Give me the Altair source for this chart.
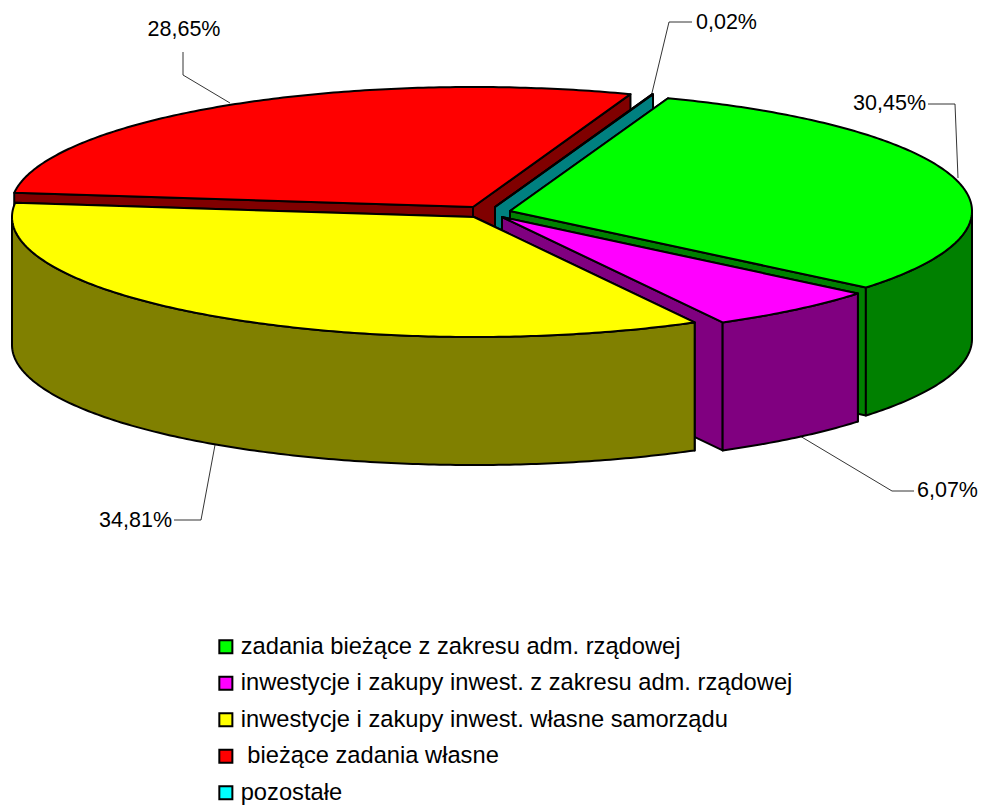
import math
import altair as alt

# ---- chart values ----
categories = ["zadania bieżące z zakresu adm. rządowej",
              "inwestycje i zakupy inwest. z zakresu adm. rządowej",
              "inwestycje i zakupy inwest. własne samorządu",
              "\u200b bieżące zadania własne",
              "pozostałe"]
shares = [30.45, 6.07, 34.81, 28.65, 0.02]
top_colors = ["#00ff00", "#ff00ff", "#ffff00", "#ff0000", "#00ffff"]
wall_colors = ["#008000", "#800080", "#808000", "#800000", "#008080"]
slice_centers = [(510, 211), (502, 217), (474, 217), (473, 207), (495, 207)]
paint_order = [3, 4, 0, 1, 2]

START_ANGLE = 20
RX, RY, DEPTH = 462, 120, 128
FONT = "Liberation Sans"

label_text = ["30,45%", "6,07%", "34,81%", "28,65%", "0,02%"]
label_x = [926, 917, 172, 184, 696]
label_y = [104, 491, 521, 30, 23]
label_align = ["right", "left", "right", "center", "left"]

leaders = [[(928, 104), (955, 104), (958, 178)],
           [(800, 436), (892, 491), (914, 491)],
           [(174, 520), (201, 520), (215, 445)],
           [(183, 52), (183, 75), (230, 103)],
           [(651, 97), (669, 22), (692, 22)]]


def pt(c, deg, dz=0):
    r = math.radians(deg)
    return [c[0] + RX * math.sin(r), c[1] - RY * math.cos(r) + dz]


def feat(ring, fill):
    ring = ring + [ring[0]]
    return {"type": "Feature", "properties": {"fill": fill},
            "geometry": {"type": "Polygon", "coordinates": [ring]}}


def sweep(a0, a1):
    n = max(2, int((a1 - a0) * 1.5))
    return [a0 + (a1 - a0) * k / n for k in range(n + 1)]


angles = [START_ANGLE]
for s in shares:
    angles.append(angles[-1] + s * 3.6)

features = []
for i in paint_order:
    c, a0, a1 = slice_centers[i], angles[i], angles[i + 1]
    wall = wall_colors[i]
    for a in (a0, a1):
        features.append(feat([[c[0], c[1]], pt(c, a), pt(c, a, DEPTH), [c[0], c[1] + DEPTH]], wall))
    f0, f1 = max(a0, 90), min(a1, 270)
    if f1 > f0:
        front = sweep(f0, f1)
        features.append(feat([pt(c, a) for a in front] + [pt(c, a, DEPTH) for a in reversed(front)], wall))
    top = top_colors[i] if shares[i] >= 1 else wall
    features.append(feat([[c[0], c[1]]] + [pt(c, a) for a in sweep(a0, a1)], top))

W, H = 970, 798
xs = alt.Scale(domain=[8, 8 + W], nice=False, zero=False)
ys = alt.Scale(domain=[8 + H, 8], nice=False, zero=False)

pie = alt.Chart(alt.Data(values=features)).mark_geoshape(
    stroke="black", strokeWidth=2, strokeJoin="round"
).encode(
    color=alt.Color("properties.fill:N", scale=None, legend=None)
).project(type="identity", scale=1, translate=[-8, -8])

leader_rows = [{"id": i, "k": k, "x": p[0], "y": p[1]}
               for i, line in enumerate(leaders) for k, p in enumerate(line)]
lead = alt.Chart(alt.Data(values=leader_rows)).mark_line(color="black", strokeWidth=0.8).encode(
    x=alt.X("x:Q", scale=xs, axis=None),
    y=alt.Y("y:Q", scale=ys, axis=None),
    detail="id:N", order="k:O")

text_layers = []
for al in ("left", "center", "right"):
    rows = [{"t": t, "x": x, "y": y} for t, x, y, a in zip(label_text, label_x, label_y, label_align) if a == al]
    text_layers.append(alt.Chart(alt.Data(values=rows)).mark_text(
        align=al, baseline="middle", font=FONT, fontSize=21.5, color="black"
    ).encode(x=alt.X("x:Q", scale=xs, axis=None), y=alt.Y("y:Q", scale=ys, axis=None), text="t:N"))

legend_rows = [{"c": c, "x": 500, "y": 200} for c in categories]
legend = alt.Chart(alt.Data(values=legend_rows)).mark_square(opacity=0, size=100).encode(
    x=alt.X("x:Q", scale=xs, axis=None),
    y=alt.Y("y:Q", scale=ys, axis=None),
    color=alt.Color("c:N", scale=alt.Scale(domain=categories, range=top_colors),
                    legend=alt.Legend(title=None, orient="none", legendX=206, legendY=627,
                                      symbolType="square", symbolSize=170, symbolOpacity=1,
                                      symbolStrokeColor="black", symbolStrokeWidth=2,
                                      labelFont=FONT, labelFontSize=23.7, labelColor="black",
                                      labelLimit=800, rowPadding=11.5, labelOffset=3,
                                      padding=0)))

chart = alt.layer(pie, legend, lead, *text_layers).resolve_scale(color="independent").properties(
    width=W, height=H, padding=0, autosize=alt.AutoSizeParams(type="none")
).configure_view(stroke=None)

chart.save("out.html", embed_options={"renderer": "svg", "actions": False})
